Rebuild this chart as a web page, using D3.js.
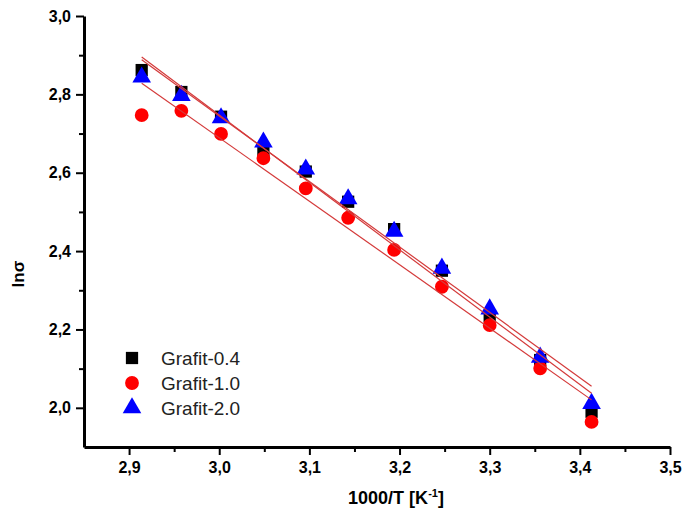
<!DOCTYPE html>
<html>
<head>
<meta charset="utf-8">
<script src="https://cdn.jsdelivr.net/npm/d3@7"></script>
<style>
  html, body { margin: 0; padding: 0; background: #fff; }
  svg { display: block; }
  text { font-family: "Liberation Sans", Arial, sans-serif; }
</style>
</head>
<body>
<svg id="chart" width="684" height="512"></svg>
<script>
// Inverse temperature, 1000/T [K^-1]
const invT = [2.914, 2.958, 3.002, 3.049, 3.096, 3.143, 3.194, 3.247, 3.300, 3.356, 3.413];

// ln(sigma) for each graphite loading
const grafit04 = [2.862, 2.806, 2.743, 2.654, 2.603, 2.526, 2.456, 2.350, 2.234, 2.122, 1.990];
const grafit10 = [2.747, 2.758, 2.699, 2.637, 2.560, 2.485, 2.403, 2.309, 2.211, 2.101, 1.964];
const grafit20 = [2.844, 2.797, 2.740, 2.678, 2.609, 2.533, 2.450, 2.356, 2.252, 2.129, 2.011];

const seriesNames = ["Grafit-0.4", "Grafit-1.0", "Grafit-2.0"];
const xTicks = [2.9, 3.0, 3.1, 3.2, 3.3, 3.4, 3.5];
const yTicks = [2.0, 2.2, 2.4, 2.6, 2.8, 3.0];
const xMinor = [2.95, 3.05, 3.15, 3.25, 3.35, 3.45];
const yMinor = [2.1, 2.3, 2.5, 2.7, 2.9];

const series = [
  { name: seriesNames[0], values: grafit04, color: "#000000", shape: d3.symbolSquare },
  { name: seriesNames[1], values: grafit10, color: "#ff0000", shape: d3.symbolCircle },
  { name: seriesNames[2], values: grafit20, color: "#0000ff", shape: d3.symbolTriangle }
];

const svg = d3.select("#chart");
const plotLeft = 84, plotRight = 670, plotTop = 16, plotBottom = 447;

const x = d3.scaleLinear().domain([2.85, 3.5]).range([plotLeft, plotRight]);
const y = d3.scaleLinear().domain([1.9, 3.0]).range([plotBottom, plotTop]);

const fmt = d => d.toFixed(1).replace(".", ",");

// Axes: major ticks labelled, minor ticks shorter
svg.append("g").attr("transform", `translate(0,${plotBottom})`)
  .call(d3.axisBottom(x).tickValues(xTicks).tickFormat(fmt).tickSize(8).tickSizeOuter(0).tickPadding(7));
svg.append("g").attr("transform", `translate(0,${plotBottom})`)
  .call(d3.axisBottom(x).tickValues(xMinor).tickFormat("").tickSize(5).tickSizeOuter(0))
  .select(".domain").remove();

svg.append("g").attr("transform", `translate(${plotLeft},0)`)
  .call(d3.axisLeft(y).tickValues(yTicks).tickFormat(fmt).tickSize(8).tickSizeOuter(0).tickPadding(5));
svg.append("g").attr("transform", `translate(${plotLeft},0)`)
  .call(d3.axisLeft(y).tickValues(yMinor).tickFormat("").tickSize(5).tickSizeOuter(0))
  .select(".domain").remove();

svg.selectAll(".domain").attr("stroke", "#000").attr("stroke-width", 3);
svg.selectAll(".tick line").attr("stroke", "#000").attr("stroke-width", 2);
svg.selectAll(".tick text").attr("fill", "#000")
  .style("font-size", "16px").style("font-weight", "bold");

// Axis titles
const xt = svg.append("text")
  .attr("x", 396).attr("y", 504)
  .attr("text-anchor", "middle")
  .style("font-size", "18px").style("font-weight", "bold");
xt.append("tspan").text("1000/T [K");
xt.append("tspan").attr("dy", -7).style("font-size", "11px").text("-1");
xt.append("tspan").attr("dy", 7).text("]");

svg.append("text")
  .attr("transform", "translate(24,274) rotate(-90)")
  .attr("text-anchor", "middle")
  .style("font-size", "17px").style("font-weight", "bold")
  .text("lnσ");

// Markers
series.forEach(s => {
  svg.append("g").selectAll("path")
    .data(s.values.map((v, i) => [invT[i], v]))
    .join("path")
    .attr("transform", d => `translate(${x(d[0])},${y(d[1])})`)
    .attr("d", d3.symbol().type(s.shape).size(150)())
    .attr("fill", s.color);
});

// Least-squares fit lines for each series
series.forEach(s => {
  const mx = d3.mean(invT), my = d3.mean(s.values);
  const sxy = d3.sum(invT, (xv, i) => (xv - mx) * (s.values[i] - my));
  const sxx = d3.sum(invT, xv => (xv - mx) ** 2);
  const b = sxy / sxx, a = my - b * mx;
  const x0 = invT[0], x1 = invT[invT.length - 1];
  svg.append("line")
    .attr("x1", x(x0)).attr("y1", y(a + b * x0))
    .attr("x2", x(x1)).attr("y2", y(a + b * x1))
    .attr("stroke", "#d43a3a").attr("stroke-width", 1.2);
});

// Legend
const legend = svg.append("g");
series.forEach((s, i) => {
  const ly = 358 + i * 25;
  legend.append("path")
    .attr("transform", `translate(132,${ly})`)
    .attr("d", d3.symbol().type(s.shape).size(150)())
    .attr("fill", s.color);
  legend.append("text")
    .attr("x", 161).attr("y", ly + 6.5)
    .style("font-size", "19px")
    .attr("fill", "#222")
    .text(s.name);
});
</script>
</body>
</html>
